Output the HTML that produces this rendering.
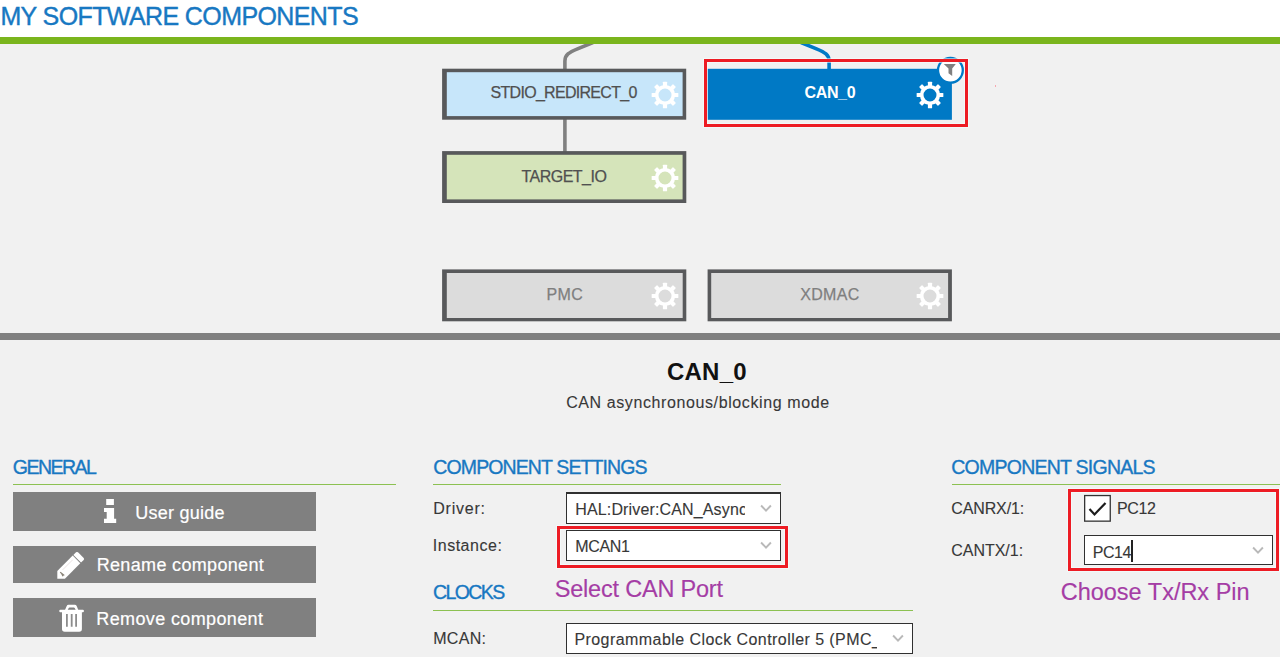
<!DOCTYPE html>
<html><head><meta charset="utf-8"><title>My Software Components</title><style>
html,body{margin:0;padding:0;}
body{width:1280px;height:657px;overflow:hidden;position:relative;background:#f1f1f1;font-family:"Liberation Sans", sans-serif;}
.a{position:absolute;display:block;}
.t{position:absolute;white-space:nowrap;height:30px;line-height:30px;}
.sel{position:absolute;box-sizing:border-box;border:1px solid #303030;background:#fff;overflow:hidden;}
.red{position:absolute;box-sizing:border-box;border:3px solid #ed1c24;box-shadow:0 0 0 1px rgba(244,255,255,0.55), inset 0 0 0 1px rgba(244,255,255,0.55);}
.btn{position:absolute;background:#808080;left:13px;width:303px;}
.gl{position:absolute;height:1px;background:#8cc152;}
</style></head><body>
<div class="a" style="left:0;top:0;width:1280px;height:37px;background:#fff"></div>
<div class="t" id="t_header" style="left:0.40px;top:1.04px;font-size:25px;color:#1878c2;letter-spacing:-0.601px;font-weight:400;-webkit-text-stroke:0.4px #1878c2;">MY SOFTWARE COMPONENTS</div>
<div class="a" style="left:0;top:37px;width:1280px;height:7px;background:#7ab51d"></div>
<svg class="a" style="left:0;top:44px" width="1280" height="289" viewBox="0 44 1280 289"><path d="M564.9,70 L564.9,61 C564.9,55 569,52.3 577.5,48.8 L593,42.6" fill="none" stroke="#808080" stroke-width="3.6"/><path d="M564.9,119 L564.9,153" fill="none" stroke="#808080" stroke-width="3.6"/><path d="M829.1,70 L829.1,61 C829.1,55 825,52.3 816.5,48.8 L801,42.6" fill="none" stroke="#0079c5" stroke-width="3.6"/><rect x="442.1" y="68.7" width="244.10" height="51.00" fill="#58595b"/><rect x="446.8" y="72.2" width="235.80" height="43.90" fill="#c7e6fa"/><rect x="442.1" y="151.1" width="244.20" height="51.90" fill="#58595b"/><rect x="446.8" y="154.8" width="235.80" height="44.60" fill="#d5e4ba"/><rect x="442.1" y="269.4" width="244.20" height="51.90" fill="#58595b"/><rect x="446.8" y="273.0" width="235.90" height="45.00" fill="#dcdcdc"/><rect x="707.6" y="269.4" width="244.30" height="51.90" fill="#58595b"/><rect x="711.2" y="273.0" width="236.90" height="45.00" fill="#dcdcdc"/><rect x="707.5" y="68.8" width="244.4" height="51" fill="#0079c5"/></svg>
<div class="t" id="t_stdio" style="left:490.50px;top:78.36px;font-size:16px;color:#505050;letter-spacing:-0.701px;font-weight:400;-webkit-text-stroke:0.25px #505050;">STDIO_REDIRECT_0</div>
<svg class="a" style="left:650px;top:79.5px" width="30" height="30" viewBox="-15 -15 30 30"><g fill="#fff"><rect x="-2.1" y="-13.35" width="4.2" height="5" rx="0.6" transform="rotate(0)"/><rect x="-2.1" y="-13.35" width="4.2" height="5" rx="0.6" transform="rotate(45)"/><rect x="-2.1" y="-13.35" width="4.2" height="5" rx="0.6" transform="rotate(90)"/><rect x="-2.1" y="-13.35" width="4.2" height="5" rx="0.6" transform="rotate(135)"/><rect x="-2.1" y="-13.35" width="4.2" height="5" rx="0.6" transform="rotate(180)"/><rect x="-2.1" y="-13.35" width="4.2" height="5" rx="0.6" transform="rotate(225)"/><rect x="-2.1" y="-13.35" width="4.2" height="5" rx="0.6" transform="rotate(270)"/><rect x="-2.1" y="-13.35" width="4.2" height="5" rx="0.6" transform="rotate(315)"/></g><circle r="8.3" fill="none" stroke="#fff" stroke-width="3.6"/></svg>
<div class="t" id="t_targetio" style="left:521.50px;top:162.46px;font-size:16px;color:#505050;letter-spacing:-0.521px;font-weight:400;-webkit-text-stroke:0.25px #505050;">TARGET_IO</div>
<svg class="a" style="left:650px;top:162.6px" width="30" height="30" viewBox="-15 -15 30 30"><g fill="#fff"><rect x="-2.1" y="-13.35" width="4.2" height="5" rx="0.6" transform="rotate(0)"/><rect x="-2.1" y="-13.35" width="4.2" height="5" rx="0.6" transform="rotate(45)"/><rect x="-2.1" y="-13.35" width="4.2" height="5" rx="0.6" transform="rotate(90)"/><rect x="-2.1" y="-13.35" width="4.2" height="5" rx="0.6" transform="rotate(135)"/><rect x="-2.1" y="-13.35" width="4.2" height="5" rx="0.6" transform="rotate(180)"/><rect x="-2.1" y="-13.35" width="4.2" height="5" rx="0.6" transform="rotate(225)"/><rect x="-2.1" y="-13.35" width="4.2" height="5" rx="0.6" transform="rotate(270)"/><rect x="-2.1" y="-13.35" width="4.2" height="5" rx="0.6" transform="rotate(315)"/></g><circle r="8.3" fill="none" stroke="#fff" stroke-width="3.6"/></svg>
<div class="t" id="t_canbox" style="left:804.50px;top:78.26px;font-size:16px;color:#ffffff;letter-spacing:-0.350px;font-weight:700;">CAN_0</div>
<svg class="a" style="left:914.8px;top:79.6px" width="30" height="30" viewBox="-15 -15 30 30"><g fill="#fff"><rect x="-2.1" y="-13.35" width="4.2" height="5" rx="0.6" transform="rotate(0)"/><rect x="-2.1" y="-13.35" width="4.2" height="5" rx="0.6" transform="rotate(45)"/><rect x="-2.1" y="-13.35" width="4.2" height="5" rx="0.6" transform="rotate(90)"/><rect x="-2.1" y="-13.35" width="4.2" height="5" rx="0.6" transform="rotate(135)"/><rect x="-2.1" y="-13.35" width="4.2" height="5" rx="0.6" transform="rotate(180)"/><rect x="-2.1" y="-13.35" width="4.2" height="5" rx="0.6" transform="rotate(225)"/><rect x="-2.1" y="-13.35" width="4.2" height="5" rx="0.6" transform="rotate(270)"/><rect x="-2.1" y="-13.35" width="4.2" height="5" rx="0.6" transform="rotate(315)"/></g><circle r="8.3" fill="none" stroke="#fff" stroke-width="3.6"/></svg>
<svg class="a" style="left:934px;top:54px" width="32" height="32" viewBox="934 54 32 32"><circle cx="950.4" cy="70.3" r="12.4" fill="#fff" stroke="#0079c5" stroke-width="2.3"/><path d="M943.8,63.9 L955.8,63.9 L952.2,68.6 L952.2,76 L948.5,73.2 L948.5,68.6 Z" fill="#808080"/></svg>
<div class="red" style="left:704px;top:59px;width:264px;height:68px"></div>
<div class="t" id="t_pmc" style="left:546.50px;top:280.16px;font-size:16px;color:#7f7f7f;letter-spacing:0.350px;font-weight:400;-webkit-text-stroke:0.25px #7f7f7f;">PMC</div>
<svg class="a" style="left:650px;top:281px" width="30" height="30" viewBox="-15 -15 30 30"><g fill="#fff"><rect x="-2.1" y="-13.35" width="4.2" height="5" rx="0.6" transform="rotate(0)"/><rect x="-2.1" y="-13.35" width="4.2" height="5" rx="0.6" transform="rotate(45)"/><rect x="-2.1" y="-13.35" width="4.2" height="5" rx="0.6" transform="rotate(90)"/><rect x="-2.1" y="-13.35" width="4.2" height="5" rx="0.6" transform="rotate(135)"/><rect x="-2.1" y="-13.35" width="4.2" height="5" rx="0.6" transform="rotate(180)"/><rect x="-2.1" y="-13.35" width="4.2" height="5" rx="0.6" transform="rotate(225)"/><rect x="-2.1" y="-13.35" width="4.2" height="5" rx="0.6" transform="rotate(270)"/><rect x="-2.1" y="-13.35" width="4.2" height="5" rx="0.6" transform="rotate(315)"/></g><circle r="8.3" fill="none" stroke="#fff" stroke-width="3.6"/></svg>
<div class="t" id="t_xdmac" style="left:800.20px;top:279.76px;font-size:16px;color:#7f7f7f;letter-spacing:0.345px;font-weight:400;-webkit-text-stroke:0.25px #7f7f7f;">XDMAC</div>
<svg class="a" style="left:915px;top:281px" width="30" height="30" viewBox="-15 -15 30 30"><g fill="#fff"><rect x="-2.1" y="-13.35" width="4.2" height="5" rx="0.6" transform="rotate(0)"/><rect x="-2.1" y="-13.35" width="4.2" height="5" rx="0.6" transform="rotate(45)"/><rect x="-2.1" y="-13.35" width="4.2" height="5" rx="0.6" transform="rotate(90)"/><rect x="-2.1" y="-13.35" width="4.2" height="5" rx="0.6" transform="rotate(135)"/><rect x="-2.1" y="-13.35" width="4.2" height="5" rx="0.6" transform="rotate(180)"/><rect x="-2.1" y="-13.35" width="4.2" height="5" rx="0.6" transform="rotate(225)"/><rect x="-2.1" y="-13.35" width="4.2" height="5" rx="0.6" transform="rotate(270)"/><rect x="-2.1" y="-13.35" width="4.2" height="5" rx="0.6" transform="rotate(315)"/></g><circle r="8.3" fill="none" stroke="#fff" stroke-width="3.6"/></svg>
<div class="a" style="left:995px;top:85px;width:1px;height:2px;background:rgba(248,150,160,0.8)"></div>
<div class="a" style="left:0;top:333px;width:1280px;height:7px;background:#808080"></div>
<div class="t" id="t_title" style="left:667.10px;top:356.58px;font-size:24px;color:#111111;letter-spacing:0.180px;font-weight:700;">CAN_0</div>
<div class="t" id="t_subtitle" style="left:566.14px;top:388.16px;font-size:16px;color:#383838;letter-spacing:0.603px;font-weight:400;-webkit-text-stroke:0.1px #383838;">CAN asynchronous/blocking mode</div>
<div class="t" id="t_general" style="left:12.85px;top:451.78px;font-size:19.5px;color:#1878c2;letter-spacing:-1.519px;font-weight:400;-webkit-text-stroke:0.35px #1878c2;">GENERAL</div>
<div class="gl" style="left:13px;top:484px;width:383px"></div>
<div class="btn" style="top:492px;height:39px"></div>
<div class="btn" style="top:546px;height:37px"></div>
<div class="btn" style="top:598px;height:39px"></div>
<div class="t" id="t_userguide" style="left:135.14px;top:498.11px;font-size:18px;color:#ffffff;letter-spacing:0.270px;font-weight:400;-webkit-text-stroke:0.2px #ffffff;">User guide</div>
<div class="t" id="t_rename" style="left:96.68px;top:550.06px;font-size:18px;color:#ffffff;letter-spacing:0.336px;font-weight:400;-webkit-text-stroke:0.2px #ffffff;">Rename component</div>
<div class="t" id="t_remove" style="left:96.30px;top:604.26px;font-size:18px;color:#ffffff;letter-spacing:0.374px;font-weight:400;-webkit-text-stroke:0.2px #ffffff;">Remove component</div>
<svg class="a" style="left:103px;top:498px" width="14" height="26" viewBox="0 0 14 26"><path d="M3.2,1.1 H10.9 V6.9 H3.2 Z M1,10 H11.1 V20.7 H13.2 V25.1 H1 V20.7 H3.7 V14 H1 Z" fill="#fff"/></svg>
<svg class="a" style="left:50px;top:545px" width="45" height="45" viewBox="50 545 45 45"><path d="M57.3,578.8 L57.3,571.0 L72.7,555.6 L80.3,563.2 L64.9,578.8 Z" fill="#fff"/><path d="M73.4,554.9 L76.0,552.3 Q77.0,551.5 78.0,552.3 L83.7,558.0 Q84.5,559.0 83.7,560.0 L81.0,562.5 Z" fill="#fff"/><path d="M62.6,569.9 L72.7,559.8" stroke="#e4dcdc" stroke-width="0.8" fill="none"/><path d="M60.2,572.2 L64.3,575.4 M61.6,573.4 L63.0,576.2" stroke="#8a8478" stroke-width="1.2" fill="none"/></svg>
<svg class="a" style="left:50px;top:596px" width="45" height="45" viewBox="50 596 45 45"><path d="M65.0,610 L66.6,606.2 Q67.2,604.8 68.6,604.8 L74.8,604.8 Q76.2,604.8 76.8,606.2 L78.3,610 L75.7,610 L74.7,607.9 Q74.4,607.4 73.9,607.4 L69.5,607.4 Q69.0,607.4 68.7,607.9 L67.7,610 Z" fill="#fff"/><rect x="59.3" y="609.7" width="24.6" height="2.5" rx="1.0" fill="#fff"/><path d="M62.0,611.5 L81.9,611.5 L81.9,629.0 Q81.9,631.7 79.2,631.7 L64.7,631.7 Q62.0,631.7 62.0,629.0 Z" fill="#fff"/><path d="M66.9,613.9 V626.8 M71.7,613.9 V626.8 M76.1,613.9 V626.8" stroke="#8c8c8c" stroke-width="1.8" fill="none"/></svg>
<div class="t" id="t_compset" style="left:433.32px;top:452.14px;font-size:19.5px;color:#1878c2;letter-spacing:-0.885px;font-weight:400;-webkit-text-stroke:0.35px #1878c2;">COMPONENT SETTINGS</div>
<div class="gl" style="left:433px;top:484px;width:348px"></div>
<div class="t" id="t_driver" style="left:433.22px;top:494.06px;font-size:16px;color:#383838;letter-spacing:0.770px;font-weight:400;-webkit-text-stroke:0.12px #383838;">Driver:</div>
<div class="t" id="t_instance" style="left:432.74px;top:531.46px;font-size:16px;color:#383838;letter-spacing:0.525px;font-weight:400;-webkit-text-stroke:0.12px #383838;">Instance:</div>
<div class="sel" style="left:566px;top:492px;width:215px;height:32px;border-top-width:2px"></div>
<div class="a" style="left:570px;top:493px;width:175px;height:30px;overflow:hidden"><div class="t" id="t_hal" style="left:5.24px;top:2.24px;font-size:16px;color:#383838;letter-spacing:0.146px;font-weight:400;-webkit-text-stroke:0.12px #383838;">HAL:Driver:CAN_Asyn<span class="nf">c</span></div></div>
<svg class="a" style="left:758px;top:502.2px" width="16" height="12" viewBox="-8 -6 16 12"><path d="M-4.9,-2.5 L0,2.7 L4.9,-2.5" fill="none" stroke="#b9b9b9" stroke-width="1.9"/></svg>
<div class="sel" style="left:566px;top:530px;width:215px;height:31px"></div>
<div class="t" id="t_mcan1" style="left:575.24px;top:532.16px;font-size:16px;color:#383838;letter-spacing:-0.355px;font-weight:400;-webkit-text-stroke:0.12px #383838;">MCAN1</div>
<svg class="a" style="left:758px;top:539.2px" width="16" height="12" viewBox="-8 -6 16 12"><path d="M-4.9,-2.5 L0,2.7 L4.9,-2.5" fill="none" stroke="#b9b9b9" stroke-width="1.9"/></svg>
<div class="red" style="left:557px;top:526px;width:231px;height:42px"></div>
<div class="t" id="t_clocks" style="left:432.96px;top:576.74px;font-size:19.5px;color:#1878c2;letter-spacing:-1.582px;font-weight:400;-webkit-text-stroke:0.35px #1878c2;">CLOCKS</div>
<div class="gl" style="left:433px;top:610px;width:480px"></div>
<div class="t" id="t_select" style="left:554.70px;top:574.16px;font-size:23.5px;color:#a53da5;letter-spacing:-0.200px;font-weight:400;-webkit-text-stroke:0.15px #a53da5;">Select CAN Port</div>
<div class="t" id="t_mcanl" style="left:433.22px;top:624.06px;font-size:16px;color:#383838;letter-spacing:0.315px;font-weight:400;-webkit-text-stroke:0.12px #383838;">MCAN:</div>
<div class="sel" style="left:566px;top:623px;width:347px;height:31px"></div>
<div class="a" style="left:570px;top:624px;width:307px;height:29px;overflow:hidden"><div class="t" id="t_prog" style="left:4.40px;top:1.46px;font-size:16px;color:#383838;letter-spacing:0.437px;font-weight:400;-webkit-text-stroke:0.12px #383838;">Programmable Clock Controller 5 (PMC<span class="nf">_</span></div></div>
<svg class="a" style="left:890px;top:632.4px" width="16" height="12" viewBox="-8 -6 16 12"><path d="M-4.9,-2.5 L0,2.7 L4.9,-2.5" fill="none" stroke="#b9b9b9" stroke-width="1.9"/></svg>
<div class="t" id="t_compsig" style="left:951.24px;top:452.14px;font-size:19.5px;color:#1878c2;letter-spacing:-0.751px;font-weight:400;-webkit-text-stroke:0.35px #1878c2;">COMPONENT SIGNALS</div>
<div class="gl" style="left:952px;top:484px;width:328px"></div>
<div class="t" id="t_canrx" style="left:951.24px;top:494.06px;font-size:16px;color:#383838;letter-spacing:-0.120px;font-weight:400;-webkit-text-stroke:0.12px #383838;">CANRX/1:</div>
<div class="t" id="t_cantx" style="left:951.24px;top:536.06px;font-size:16px;color:#383838;letter-spacing:-0.020px;font-weight:400;-webkit-text-stroke:0.12px #383838;">CANTX/1:</div>
<svg class="a" style="left:1080px;top:491px" width="35" height="35" viewBox="1080 491 35 35"><rect x="1084.65" y="495.55" width="25.6" height="25.6" fill="#fff" stroke="#333" stroke-width="1.3"/><path d="M1089.5,509.0 L1094.5,514.5 L1105.5,502.9" fill="none" stroke="#1c1c1c" stroke-width="2.2"/></svg>
<div class="t" id="t_pc12" style="left:1116.98px;top:494.16px;font-size:16px;color:#383838;letter-spacing:-0.374px;font-weight:400;-webkit-text-stroke:0.12px #383838;">PC12</div>
<div class="sel" style="left:1084px;top:535px;width:189px;height:30px"></div>
<div class="t" id="t_pc14" style="left:1092.80px;top:537.78px;font-size:16px;color:#383838;letter-spacing:-0.512px;font-weight:400;-webkit-text-stroke:0.12px #383838;">PC14</div>
<div class="a" style="left:1131px;top:540px;width:2px;height:22px;background:#222"></div>
<svg class="a" style="left:1250px;top:543.8px" width="16" height="12" viewBox="-8 -6 16 12"><path d="M-4.9,-2.5 L0,2.7 L4.9,-2.5" fill="none" stroke="#b9b9b9" stroke-width="1.9"/></svg>
<div class="red" style="left:1068px;top:489px;width:211px;height:82px"></div>
<div class="t" id="t_choose" style="left:1060.70px;top:577.06px;font-size:23.5px;color:#a53da5;letter-spacing:-0.002px;font-weight:400;-webkit-text-stroke:0.15px #a53da5;">Choose Tx/Rx Pin</div>
</body></html>
